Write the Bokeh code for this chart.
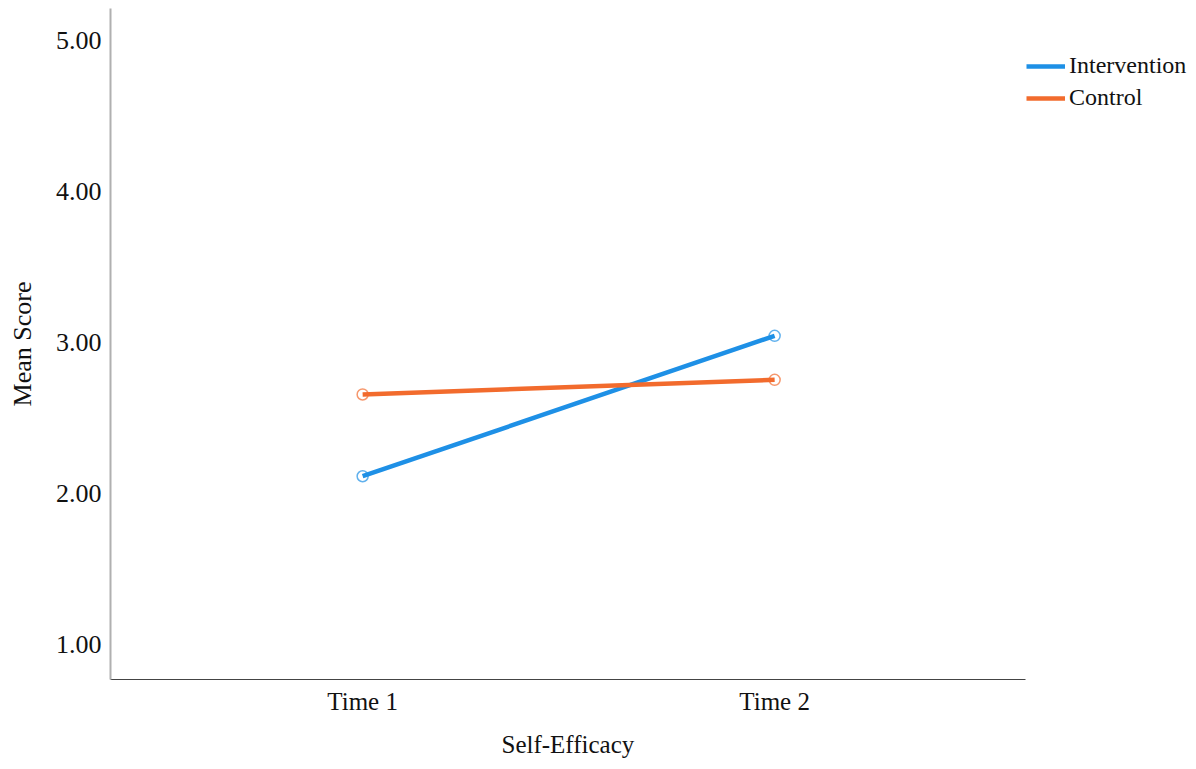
from bokeh.plotting import figure
from bokeh.models import Legend, LegendItem, Range1d, FixedTicker, Title
from bokeh.embed import file_html
from bokeh.resources import INLINE

times = ["Time 1", "Time 2"]
x_pos = [0, 1]
intervention = [2.115, 3.044]
control = [2.656, 2.753]
y_ticks = [1.0, 2.0, 3.0, 4.0, 5.0]

BLUE = "#1e90e6"
ORANGE = "#f26b2d"
FONT = "Liberation Serif"

W, H = 1192, 769
LEFT, TOP, BOTTOM_Y = 110, 8, 679
X_LO, X_HI_AXIS = -0.612, 1.609
PX_PER_UNIT = 412.0
X_HI_FRAME = X_LO + (W - LEFT) / PX_PER_UNIT

p = figure(width=W, height=H, output_backend="svg", toolbar_location=None,
           x_range=Range1d(X_LO, X_HI_FRAME), y_range=Range1d(0.77, 5.21),
           min_border_left=LEFT, min_border_top=TOP, min_border_bottom=H - BOTTOM_Y,
           min_border_right=0)
p.outline_line_color = None
p.grid.visible = False
p.background_fill_color = "white"

l1 = p.line(x_pos, intervention, line_color=BLUE, line_width=4.5)
p.scatter(x_pos, intervention, size=11, fill_alpha=0.0,
          line_color=BLUE, line_width=1.5, line_alpha=0.7)
l2 = p.line(x_pos, control, line_color=ORANGE, line_width=4.5)
p.scatter(x_pos, control, size=11, fill_alpha=0.0,
          line_color=ORANGE, line_width=1.5, line_alpha=0.7)

xa = p.xaxis[0]
xa.bounds = (X_LO, X_HI_AXIS)
xa.ticker = FixedTicker(ticks=x_pos)
xa.major_label_overrides = {0: times[0], 1: times[1]}
xa.axis_line_color = "#444444"
xa.axis_line_width = 1.2
xa.major_tick_line_color = None
xa.minor_tick_line_color = None
xa.major_label_text_font = FONT
xa.major_label_text_font_size = "25px"
xa.major_label_text_color = "#111111"
xa.major_label_standoff = 2

x_title = Title(text="Self-Efficacy", align="left", offset=391,
                text_font=FONT, text_font_size="25px", text_font_style="normal",
                text_color="#111111", standoff=23)
p.add_layout(x_title, "below")

ya = p.yaxis[0]
ya.ticker = FixedTicker(ticks=y_ticks)
ya.major_label_overrides = {t: f"{t:.2f}" for t in y_ticks}
ya.axis_label = "Mean Score"
ya.axis_line_color = "#b0b0b0"
ya.axis_line_width = 2
ya.major_tick_line_color = None
ya.minor_tick_line_color = None
ya.major_label_text_font = FONT
ya.major_label_text_font_size = "26px"
ya.major_label_text_color = "#111111"
ya.major_label_standoff = 3
ya.axis_label_text_font = FONT
ya.axis_label_text_font_size = "26px"
ya.axis_label_text_font_style = "normal"
ya.axis_label_text_color = "#111111"
ya.axis_label_standoff = 16

legend = Legend(items=[LegendItem(label="Intervention", renderers=[l1]),
                       LegendItem(label="Control", renderers=[l2])],
                location=(916, 568))
legend.label_text_font = FONT
legend.label_text_font_size = "24px"
legend.label_text_color = "#111111"
legend.border_line_color = None
legend.background_fill_alpha = 0
legend.glyph_width = 39
legend.glyph_height = 24
legend.label_height = 24
legend.label_standoff = 4
legend.spacing = 5
legend.padding = 0
legend.margin = 0
p.add_layout(legend)

open("out.html", "w").write(file_html(p, INLINE))
